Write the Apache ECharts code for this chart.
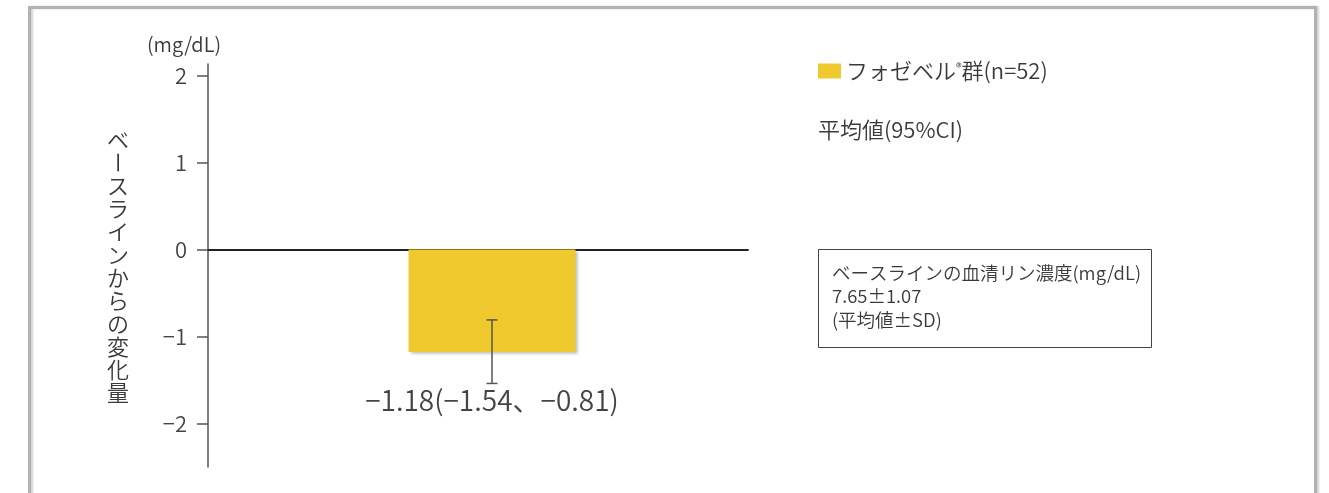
<!DOCTYPE html>
<html>
<head>
<meta charset="utf-8">
<script src="https://cdn.jsdelivr.net/npm/echarts@6/dist/echarts.min.js"></script>
<style>
  html, body { margin: 0; padding: 0; background: #ffffff; }
  #chart { width: 1329px; height: 493px; }
</style>
</head>
<body>
<div id="chart"></div>
<script>
// Group, mean change from baseline and its 95% CI (mg/dL)
const categories = ['フォゼベル®群(n=52)'];
const meanChange = [-1.18];
const ciLower = [-1.54];
const ciUpper = [-0.81];
const yTicks = [-2, -1, 0, 1, 2];
const yRange = { min: -2.5, max: 2.13 };

const axisTitle = 'ベースラインからの変化量';
const unitLabel = '(mg/dL)';
const statNote = '平均値(95%CI)';
const baselineNote = ['ベースラインの血清リン濃度(mg/dL)', '7.65±1.07', '(平均値±SD)'];

const FONT = "'Noto Sans CJK JP', 'Noto Sans', sans-serif";
const WEIGHT = 350;
const TEXT = '#3a3a3a';
const BAR = '#F0C92E';

const fmt = v => (v < 0 ? '\u2212' : '') + Math.abs(v).toFixed(2);
const tickFmt = v => (v < 0 ? '\u2212' : '') + Math.abs(v);

// vertical axis title, one glyph per cell; the long-vowel mark is turned upright
const titleChars = Array.from(axisTitle).map((ch, i) => ({
  type: 'text',
  x: 118,
  y: 139.5 + i * 23,
  rotation: ch === 'ー' ? -Math.PI / 2 : 0,
  style: {
    text: ch, fontSize: 22, fontFamily: FONT, fontWeight: WEIGHT, fill: TEXT,
    align: 'center', verticalAlign: 'middle'
  }
}));

const chart = echarts.init(document.getElementById('chart'), null, { renderer: 'canvas' });

chart.setOption({
  animation: false,
  backgroundColor: '#ffffff',
  textStyle: { fontFamily: FONT, fontWeight: WEIGHT },
  grid: [
    { left: 208, right: 581, top: 64, bottom: 26 },
    { left: 208, right: 553, top: 64, bottom: 26 }
  ],
  legend: {
    data: categories,
    left: 818,
    top: 60,
    padding: 0,
    icon: 'rect',
    itemWidth: 23,
    itemHeight: 15,
    selectedMode: false,
    formatter: n => n.replace('®', '{r|®}'),
    textStyle: {
      fontSize: 22, color: TEXT, fontFamily: FONT, fontWeight: WEIGHT,
      rich: { r: { fontSize: 12, color: TEXT, fontFamily: FONT, fontWeight: WEIGHT, padding: [0, 0, 8, 0] } }
    }
  },
  xAxis: [
    {
      type: 'category', gridIndex: 0, data: categories,
      axisLine: { onZero: true, lineStyle: { color: '#222222', width: 1.8 } },
      axisTick: { show: false }, axisLabel: { show: false }, splitLine: { show: false }
    },
    {
      type: 'category', gridIndex: 1, data: categories, show: false
    }
  ],
  yAxis: [
    {
      type: 'value', gridIndex: 0, min: yRange.min, max: yRange.max,
      axisLine: { show: true, onZero: false, lineStyle: { color: '#555555', width: 1.5 } },
      axisTick: { show: true, length: 11, customValues: yTicks, lineStyle: { color: '#555555', width: 1.5 } },
      axisLabel: {
        customValues: yTicks, formatter: tickFmt, margin: 21,
        fontSize: 22, color: '#444444', fontFamily: FONT, fontWeight: WEIGHT
      },
      splitLine: { show: false }
    },
    {
      type: 'value', gridIndex: 1, min: yRange.min, max: yRange.max, show: false,
      splitLine: { show: false }
    }
  ],
  series: [
    {
      name: categories[0],
      type: 'bar',
      xAxisIndex: 1, yAxisIndex: 1,
      barWidth: 167,
      data: meanChange,
      itemStyle: {
        color: BAR,
        shadowColor: 'rgba(0,0,0,0.28)', shadowBlur: 3, shadowOffsetX: 2, shadowOffsetY: 2
      },
      label: {
        show: true,
        position: 'bottom',
        distance: 34,
        fontSize: 28,
        color: '#444444',
        fontFamily: FONT,
        fontWeight: WEIGHT,
        formatter: p => fmt(meanChange[p.dataIndex]) + '(' + fmt(ciLower[p.dataIndex]) + '、' + fmt(ciUpper[p.dataIndex]) + ')'
      },
      z: 2
    },
    {
      name: '95%CI',
      type: 'custom',
      xAxisIndex: 1, yAxisIndex: 1,
      data: categories.map((c, i) => [i, ciLower[i], ciUpper[i]]),
      encode: { x: 0, y: [1, 2] },
      z: 5,
      renderItem: (params, api) => {
        const lo = api.coord([api.value(0), api.value(1)]);
        const hi = api.coord([api.value(0), api.value(2)]);
        const half = 5.5;
        const style = { stroke: '#555555', lineWidth: 1.5 };
        return {
          type: 'group',
          children: [
            { type: 'line', shape: { x1: lo[0], y1: lo[1], x2: hi[0], y2: hi[1] }, style },
            { type: 'line', shape: { x1: lo[0] - half, y1: lo[1], x2: lo[0] + half, y2: lo[1] }, style },
            { type: 'line', shape: { x1: hi[0] - half, y1: hi[1], x2: hi[0] + half, y2: hi[1] }, style }
          ]
        };
      }
    }
  ],
  graphic: [
    {
      type: 'rect', silent: true, z: 0,
      shape: { x: 29.5, y: 7.5, width: 1286, height: 540 },
      style: {
        fill: 'none', stroke: '#b2b2b2', lineWidth: 3,
        shadowColor: 'rgba(0,0,0,0.18)', shadowBlur: 2, shadowOffsetX: 2, shadowOffsetY: 0
      }
    },
    {
      type: 'text', x: 184, y: 44,
      style: { text: unitLabel, fontSize: 20, fontFamily: FONT, fontWeight: WEIGHT, fill: TEXT, align: 'center', verticalAlign: 'middle' }
    },
    {
      type: 'group', children: titleChars
    },
    {
      type: 'text', x: 818, y: 130,
      style: { text: statNote, fontSize: 22, fontFamily: FONT, fontWeight: WEIGHT, fill: TEXT, align: 'left', verticalAlign: 'middle' }
    },
    {
      type: 'rect',
      shape: { x: 818.5, y: 249.5, width: 333, height: 98 },
      style: { fill: '#ffffff', stroke: '#444444', lineWidth: 1 }
    },
    {
      type: 'text', x: 832, y: 261,
      style: {
        text: baselineNote.join('\n'), fontSize: 18.5, lineHeight: 23.5,
        fontFamily: FONT, fontWeight: WEIGHT, fill: TEXT, align: 'left', verticalAlign: 'top'
      }
    }
  ]
});
</script>
</body>
</html>
